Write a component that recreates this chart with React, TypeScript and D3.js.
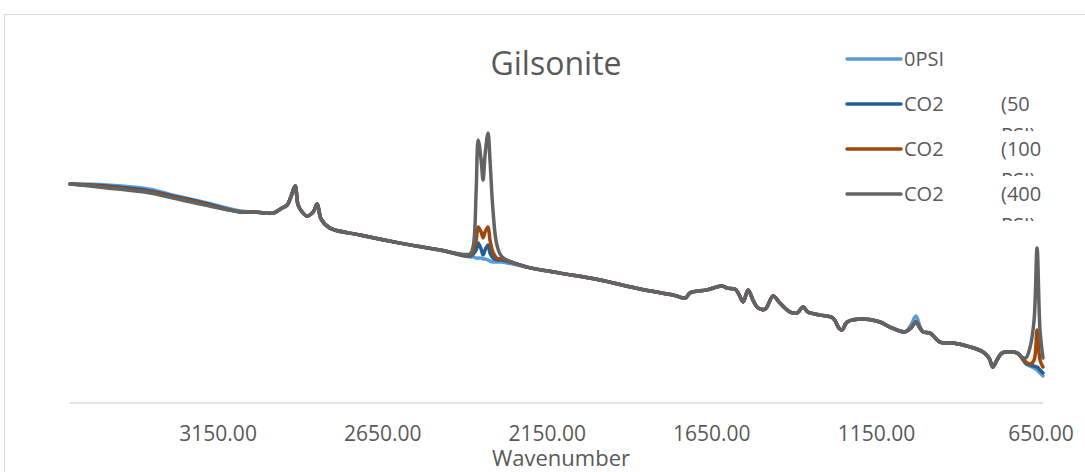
import React, { useRef, useEffect } from 'react';
import * as d3 from 'd3';

// wavenumber (cm-1)
const wavenumber = [
  3600, 3487, 3357, 3287, 3205, 3083, 3038, 2983, 2956, 2940,
  2928, 2916, 2907, 2895, 2880, 2861, 2849, 2837, 2810, 2719,
  2597, 2476, 2385, 2375, 2366, 2360, 2351, 2345, 2339, 2330,
  2324, 2315, 2303, 2287, 2211, 2111, 1990, 1868, 1768, 1731,
  1716, 1665, 1619, 1604, 1580, 1570, 1555, 1540, 1525, 1510,
  1488, 1464, 1443, 1412, 1391, 1373, 1358, 1321, 1282, 1264,
  1254, 1239, 1191, 1139, 1109, 1063, 1045, 1030, 1018, 1008,
  987, 957, 917, 866, 826, 808, 796, 784, 768, 723,
  708, 696, 683, 671, 662, 653, 644,
];

const psi0 = [
  0.730, 0.727, 0.713, 0.693, 0.673, 0.640, 0.637, 0.633, 0.650, 0.660,
  0.690, 0.723, 0.660, 0.637, 0.623, 0.637, 0.663, 0.613, 0.583, 0.560,
  0.533, 0.510, 0.487, 0.487, 0.483, 0.483, 0.483, 0.480, 0.480, 0.477,
  0.473, 0.470, 0.470, 0.470, 0.453, 0.433, 0.410, 0.380, 0.360, 0.350,
  0.367, 0.377, 0.390, 0.383, 0.380, 0.367, 0.337, 0.377, 0.343, 0.317,
  0.313, 0.357, 0.333, 0.303, 0.300, 0.320, 0.303, 0.293, 0.283, 0.250,
  0.243, 0.270, 0.280, 0.270, 0.253, 0.237, 0.260, 0.290, 0.257, 0.237,
  0.233, 0.203, 0.200, 0.187, 0.170, 0.150, 0.120, 0.143, 0.167, 0.167,
  0.150, 0.130, 0.123, 0.117, 0.110, 0.100, 0.090,
];

const co2_50 = [
  0.730, 0.723, 0.707, 0.690, 0.670, 0.637, 0.637, 0.633, 0.650, 0.660,
  0.690, 0.723, 0.660, 0.637, 0.623, 0.637, 0.663, 0.613, 0.583, 0.560,
  0.533, 0.510, 0.490, 0.497, 0.510, 0.533, 0.513, 0.493, 0.510, 0.527,
  0.500, 0.483, 0.477, 0.477, 0.453, 0.433, 0.410, 0.380, 0.360, 0.350,
  0.367, 0.377, 0.390, 0.383, 0.380, 0.367, 0.337, 0.377, 0.343, 0.317,
  0.313, 0.357, 0.333, 0.303, 0.300, 0.320, 0.303, 0.293, 0.283, 0.250,
  0.243, 0.270, 0.280, 0.270, 0.253, 0.237, 0.250, 0.270, 0.250, 0.237,
  0.233, 0.203, 0.200, 0.187, 0.170, 0.150, 0.120, 0.143, 0.167, 0.167,
  0.150, 0.133, 0.127, 0.123, 0.120, 0.110, 0.100,
];

const co2_100 = [
  0.730, 0.720, 0.703, 0.687, 0.667, 0.637, 0.637, 0.633, 0.650, 0.660,
  0.690, 0.723, 0.660, 0.637, 0.623, 0.637, 0.663, 0.613, 0.583, 0.560,
  0.533, 0.510, 0.493, 0.507, 0.543, 0.587, 0.570, 0.550, 0.570, 0.587,
  0.543, 0.503, 0.483, 0.480, 0.453, 0.433, 0.410, 0.380, 0.360, 0.350,
  0.367, 0.377, 0.390, 0.383, 0.380, 0.367, 0.337, 0.377, 0.343, 0.317,
  0.313, 0.357, 0.333, 0.303, 0.300, 0.320, 0.303, 0.293, 0.283, 0.250,
  0.243, 0.270, 0.280, 0.270, 0.253, 0.237, 0.250, 0.270, 0.250, 0.237,
  0.233, 0.203, 0.200, 0.187, 0.170, 0.150, 0.120, 0.143, 0.167, 0.167,
  0.150, 0.137, 0.130, 0.143, 0.243, 0.143, 0.120,
];

const co2_400 = [
  0.730, 0.717, 0.700, 0.683, 0.663, 0.637, 0.637, 0.633, 0.650, 0.660,
  0.690, 0.723, 0.660, 0.637, 0.623, 0.637, 0.663, 0.613, 0.583, 0.560,
  0.533, 0.510, 0.497, 0.523, 0.710, 0.877, 0.810, 0.743, 0.827, 0.900,
  0.810, 0.643, 0.527, 0.487, 0.453, 0.433, 0.410, 0.380, 0.360, 0.350,
  0.367, 0.377, 0.390, 0.383, 0.380, 0.367, 0.337, 0.377, 0.343, 0.317,
  0.313, 0.357, 0.333, 0.303, 0.300, 0.320, 0.303, 0.293, 0.283, 0.250,
  0.243, 0.270, 0.280, 0.270, 0.253, 0.237, 0.250, 0.270, 0.250, 0.237,
  0.233, 0.203, 0.200, 0.187, 0.170, 0.150, 0.120, 0.143, 0.167, 0.167,
  0.153, 0.150, 0.187, 0.277, 0.517, 0.243, 0.150,
];

const seriesNames = ['0PSI', 'CO2 (50 PSI)', 'CO2 (100 PSI)', 'CO2 (400 PSI)'];
const xTicks = [3150, 2650, 2150, 1650, 1150, 650];

const colors = ['#5b9bd5', '#255e91', '#9e480e', '#636363'];
const FONT = "'Open Sans', 'Noto Sans', sans-serif";
const TEXT = '#595959';

const W = 1085;
const H = 472;

function App() {
  const svgRef = useRef<SVGSVGElement>(null);

  useEffect(() => {
    const svg = d3.select(svgRef.current);
    svg.selectAll('*').remove();

    const series = [psi0, co2_50, co2_100, co2_400];

    const x = d3.scaleLinear().domain([3600, 640]).range([70, 1044.3]);
    const y = d3.scaleLinear().domain([0, 1.2]).range([403, 43]);

    // chart area border
    svg
      .append('rect')
      .attr('x', 4.5)
      .attr('y', 14.5)
      .attr('width', W + 20)
      .attr('height', H + 20)
      .attr('fill', '#fff')
      .attr('stroke', '#d9d9d9')
      .attr('stroke-width', 1);

    // title
    svg
      .append('text')
      .attr('x', 556)
      .attr('y', 75)
      .attr('text-anchor', 'middle')
      .style('font-family', FONT)
      .style('font-size', '32px')
      .style('fill', TEXT)
      .text('Gilsonite');

    // x axis line (no ticks)
    svg
      .append('line')
      .attr('x1', x(3600))
      .attr('x2', x(640) - 1)
      .attr('y1', y(0))
      .attr('y2', y(0))
      .attr('stroke', '#d9d9d9')
      .attr('stroke-width', 1.5);

    svg
      .selectAll('.tick-label')
      .data(xTicks)
      .join('text')
      .attr('class', 'tick-label')
      .attr('x', d => x(d))
      .attr('y', 441)
      .attr('text-anchor', 'middle')
      .style('font-family', FONT)
      .style('font-size', '21px')
      .style('fill', TEXT)
      .text(d => d.toFixed(2));

    svg
      .append('text')
      .attr('x', 561)
      .attr('y', 466)
      .attr('text-anchor', 'middle')
      .style('font-family', FONT)
      .style('font-size', '22px')
      .style('fill', TEXT)
      .text('Wavenumber');

    // spectra, 0PSI drawn first, 400 PSI on top
    const line = d3
      .line<number>()
      .x((d, i) => x(wavenumber[i]))
      .y(d => y(d))
      .curve(d3.curveCatmullRom.alpha(0.5));

    svg
      .selectAll('.spectrum')
      .data(series)
      .join('path')
      .attr('class', 'spectrum')
      .attr('d', d => line(d))
      .attr('fill', 'none')
      .attr('stroke', (d, i) => colors[i])
      .attr('stroke-width', 3.5)
      .attr('stroke-linecap', 'round')
      .attr('stroke-linejoin', 'round');

    // legend
    const legendY = [59, 104, 149, 194];
    const defs = svg.append('defs');
    const legend = svg.append('g');
    seriesNames.forEach((name, i) => {
      const ly = legendY[i];
      legend
        .append('line')
        .attr('x1', 847)
        .attr('x2', 901)
        .attr('y1', ly)
        .attr('y2', ly)
        .attr('stroke', colors[i])
        .attr('stroke-width', 3.5)
        .attr('stroke-linecap', 'round');

      const parts = name.split(' ');
      legend
        .append('text')
        .attr('x', 904)
        .attr('y', ly + 7)
        .style('font-family', FONT)
        .style('font-size', '20px')
        .style('fill', TEXT)
        .text(parts[0]);

      if (parts.length > 1) {
        // wrapped label, second line cut off by the legend box
        defs
          .append('clipPath')
          .attr('id', `leg-clip-${i}`)
          .append('rect')
          .attr('x', 990)
          .attr('y', ly - 25)
          .attr('width', 95)
          .attr('height', 52);
        const g = legend.append('g').attr('clip-path', `url(#leg-clip-${i})`);
        g.append('text')
          .attr('x', 1001)
          .attr('y', ly + 7)
          .style('font-family', FONT)
          .style('font-size', '20px')
          .style('fill', TEXT)
          .text(parts[1]);
        g.append('text')
          .attr('x', 1001)
          .attr('y', ly + 38)
          .style('font-family', FONT)
          .style('font-size', '20px')
          .style('fill', TEXT)
          .text(parts.slice(2).join(' '));
      }
    });
  }, []);

  return (
    <svg
      ref={svgRef}
      width={W}
      height={H}
      style={{ position: 'absolute', left: 0, top: 0, display: 'block' }}
    />
  );
}

export default App;
